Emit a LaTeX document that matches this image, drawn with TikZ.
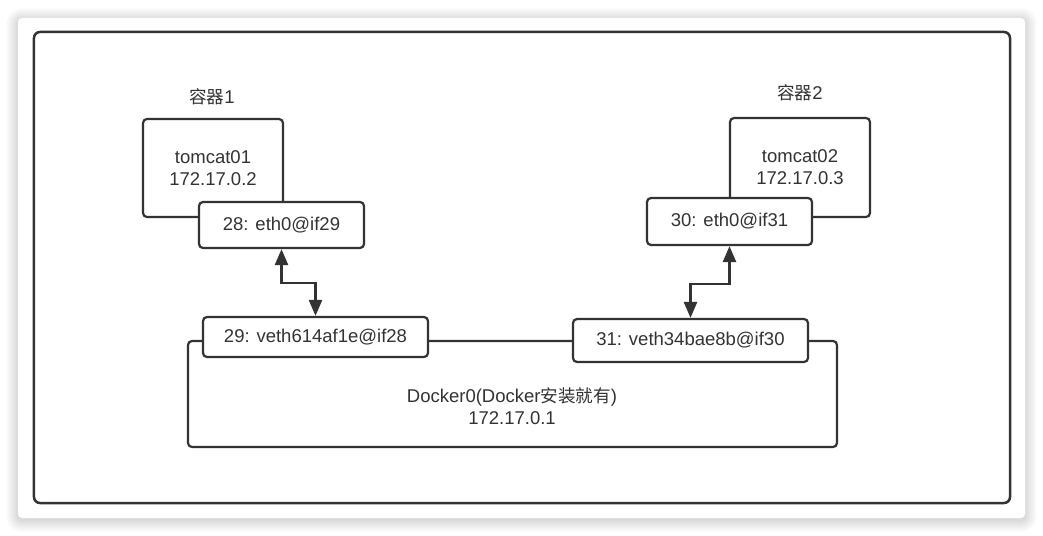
\documentclass[tikz,border=0pt]{standalone}
\usepackage{fontspec}
\setmainfont{Liberation Sans}
\newfontfamily\cjk[Scale=0.95]{Noto Sans CJK SC}
\usetikzlibrary{arrows.meta}
\definecolor{ink}{HTML}{333333}
\begin{document}
\begin{tikzpicture}[x=1bp,y=-1bp,
  box/.style={draw=ink,line width=2.2bp,rounded corners=4bp,fill=white,inner sep=0pt,
    font=\fontsize{18.5bp}{22bp}\selectfont,text=ink,align=center},
  lbl/.style={font=\fontsize{18.5bp}{22bp}\selectfont,text=ink,align=center,inner sep=0pt},
  biarrow/.style={draw=ink,line width=2.5bp,
    {Triangle[length=16bp,width=13bp]}-{Triangle[length=16bp,width=13bp]}}]
\useasboundingbox (0,0) rectangle (1043,536);
\fill[white] (0,0) rectangle (1043,536);
\foreach \i in {1,...,12}
  \fill[black,opacity=0.012,rounded corners=\i bp+4bp] (18-\i,18-\i+2) rectangle (1025+\i,518+\i+2);
\fill[white,rounded corners=4bp] (18,18) rectangle (1025,518);
% outer frame
\node[draw=ink,line width=2.5bp,rounded corners=6bp,minimum width=976bp,minimum height=471bp,inner sep=0pt] (frame) at (522,267.5) {};
% docker0 bridge
\node[box,minimum width=649bp,minimum height=106bp] (docker) at (512.5,394) {};
\node[lbl] (docktext) at (512,406) {Docker0(Docker{\cjk 安装就有})\\172.17.0.1};
\node[box,minimum width=225bp,minimum height=40bp] (veth1) at (315.5,337) {29: veth614af1e@if28};
\node[box,minimum width=235bp,minimum height=43bp] (veth2) at (690.5,340.5) {31: veth34bae8b@if30};
% containers
\node[lbl] (lab1) at (212,97) {{\cjk 容器}1};
\node[lbl] (lab2) at (800,93) {{\cjk 容器}2};
\node[box,minimum width=140bp,minimum height=98bp] (c1) at (213,168) {tomcat01\\172.17.0.2};
\node[box,minimum width=165bp,minimum height=46bp] (eth1) at (281.5,225) {28: eth0@if29};
\node[box,minimum width=140bp,minimum height=99bp] (c2) at (800,167.5) {tomcat02\\172.17.0.3};
\node[box,minimum width=165bp,minimum height=47bp] (eth2) at (729.5,221.5) {30: eth0@if31};
% links
\draw[biarrow] (eth1.south) -- ++(0,34) -| (veth1.north);
\draw[biarrow] (eth2.south) -- ++(0,38) -| (veth2.north);
\end{tikzpicture}
\end{document}
